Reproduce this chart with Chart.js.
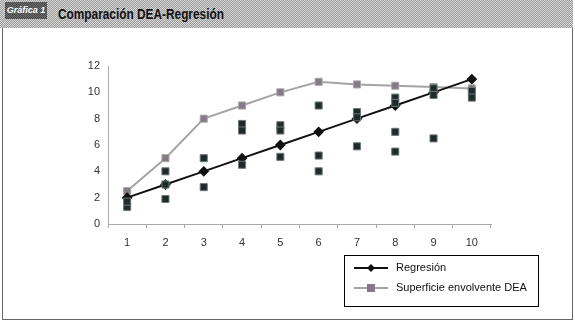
<!DOCTYPE html>
<html>
<head>
<meta charset="utf-8">
<script src="https://cdn.jsdelivr.net/npm/chart.js@4.4.1/dist/chart.umd.min.js"></script>
<style>
  html, body { margin: 0; padding: 0; background: #fff; }
  #wrap { position: relative; width: 575px; height: 323px; overflow: hidden; }
  #header {
    position: absolute; left: 0; top: 0; width: 573px; height: 28px;
    background: repeating-conic-gradient(#9c9c9c 0 25%, #d6d6d6 0 50%) 0 0 / 2px 2px;
  }
  #tag {
    position: absolute; left: 5px; top: 2px; width: 42px; height: 17px;
    background: repeating-conic-gradient(#4a4a4a 0 25%, #6a6a6a 0 50%) 0 0 / 2px 2px;
    color: #fff; font: italic bold 9px "Liberation Sans", Arial, sans-serif;
    line-height: 17px; text-align: center;
  }
  #title {
    position: absolute; left: 58px; top: 5px;
    font: bold 15px "Liberation Sans", Arial, sans-serif;
    color: #111; transform: scaleX(0.79); transform-origin: 0 0; white-space: nowrap;
  }
  #frame {
    position: absolute; left: 2px; top: 28px; width: 569px; height: 291px;
    border-left: 1px solid #666; border-right: 1px solid #666; border-bottom: 1px solid #666;
  }
  #chart { position: absolute; left: 0; top: 0; }
</style>
</head>
<body>
<div id="wrap">
  <div id="frame"></div>
  <div id="header"><div id="tag">Gráfica 1</div><div id="title">Comparación DEA-Regresión</div></div>
  <canvas id="chart" width="575" height="323"></canvas>
</div>
<script>
const categories = ["1", "2", "3", "4", "5", "6", "7", "8", "9", "10"];
const regresion = [2, 3, 4, 5, 6, 7, 8, 9, 10, 11];
const superficieDEA = [2.5, 5, 8, 9, 10, 10.8, 10.6, 10.5, 10.4, 10.3];

// observaciones individuales (cuadrados oscuros)
const obsX = ["1", "1", "2", "2", "2", "3", "3", "4", "4", "4", "5", "5", "5",
              "6", "6", "6", "7", "7", "7", "8", "8", "8", "8", "9", "9", "9", "10", "10"];
const obsY = [1.3, 1.7, 4, 3, 1.9, 5, 2.8, 7.6, 7.1, 4.5, 7.5, 7.1, 5.1,
              9, 5.2, 4, 8.5, 8.1, 5.9, 9.6, 9.2, 7, 5.5, 10.3, 9.8, 6.5, 10.1, 9.6];

const legendLabels = ["Regresión", "Superficie envolvente DEA"];
const yTicks = [0, 2, 4, 6, 8, 10, 12];

const FONT = "\"Liberation Sans\", Arial, sans-serif";

// leyenda con recuadro abajo a la derecha
const boxLegend = {
  id: "boxLegend",
  afterDraw(chart) {
    const ctx = chart.ctx;
    const x = 344, y = 255, w = 194, h = 51;
    ctx.save();
    ctx.strokeStyle = "#000";
    ctx.lineWidth = 1;
    ctx.strokeRect(x + 0.5, y + 0.5, w, h);
    ctx.font = "11px " + FONT;
    ctx.textBaseline = "middle";
    const rows = [
      { ds: chart.data.datasets[0], cy: y + 13 },
      { ds: chart.data.datasets[1], cy: y + 33 }
    ];
    rows.forEach(r => {
      ctx.strokeStyle = r.ds.borderColor;
      ctx.lineWidth = r.ds.borderWidth;
      ctx.beginPath();
      ctx.moveTo(x + 10, r.cy);
      ctx.lineTo(x + 44, r.cy);
      ctx.stroke();
      ctx.fillStyle = r.ds.pointBackgroundColor;
      if (r.ds.pointStyle === "rectRot") {
        ctx.beginPath();
        ctx.moveTo(x + 27, r.cy - 4);
        ctx.lineTo(x + 31, r.cy);
        ctx.lineTo(x + 27, r.cy + 4);
        ctx.lineTo(x + 23, r.cy);
        ctx.closePath();
        ctx.fill();
      } else {
        ctx.fillRect(x + 23, r.cy - 4, 8, 8);
      }
      ctx.fillStyle = "#111";
      ctx.fillText(r.ds.label, x + 52, r.cy);
    });
    ctx.restore();
  }
};

new Chart(document.getElementById("chart"), {
  type: "line",
  data: {
    labels: categories,
    datasets: [
      {
        label: legendLabels[0],
        data: regresion,
        borderColor: "#111",
        borderWidth: 2,
        pointStyle: "rectRot",
        pointRadius: 4,
        pointBackgroundColor: "#111",
        pointBorderColor: "#111",
        tension: 0,
        order: 2
      },
      {
        label: legendLabels[1],
        data: superficieDEA,
        borderColor: "#a4a4a4",
        borderWidth: 2,
        pointStyle: "rect",
        pointRadius: 5,
        pointBackgroundColor: "#847a86",
        pointBorderColor: "#a8a8a8",
        pointBorderWidth: 1,
        tension: 0,
        order: 3
      },
      {
        label: "obs",
        data: obsX.map((c, i) => ({ x: c, y: obsY[i] })),
        showLine: false,
        pointStyle: "rect",
        pointRadius: 5,
        pointBackgroundColor: "#1f2b2b",
        pointBorderColor: "#6f7777",
        pointBorderWidth: 1,
        order: 1
      }
    ]
  },
  options: {
    responsive: false,
    animation: false,
    layout: { padding: { left: 0, right: 84, top: 66, bottom: 69 } },
    plugins: { legend: { display: false }, tooltip: { enabled: false } },
    scales: {
      x: {
        type: "category",
        offset: true,
        afterFit: s => { s.height = 30; },
        grid: { offset: true, drawOnChartArea: false, drawTicks: true, tickLength: 4, color: "#aaa" },
        border: { color: "#aaa", dash: [1, 1] },
        ticks: { color: "#333", font: { family: FONT, size: 11 }, padding: 8 }
      },
      y: {
        min: 0,
        max: 12,
        afterFit: s => { s.width = 108; },
        afterBuildTicks: s => { s.ticks = yTicks.map(v => ({ value: v })); },
        grid: { drawOnChartArea: false, drawTicks: false },
        border: { color: "#aaa", dash: [1, 1] },
        ticks: { color: "#333", font: { family: FONT, size: 11 }, padding: 8 }
      }
    }
  },
  plugins: [boxLegend]
});
</script>
</body>
</html>
